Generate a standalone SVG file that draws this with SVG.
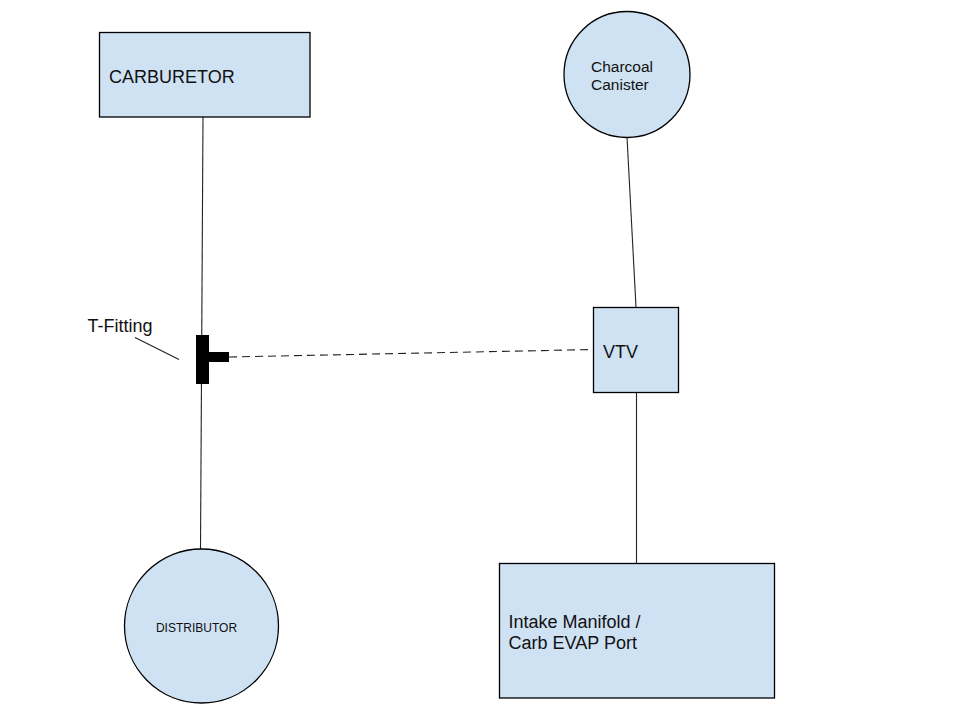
<svg xmlns="http://www.w3.org/2000/svg" width="960" height="720" viewBox="0 0 960 720">
<style>
.shape{fill:#cfe2f3;stroke:#000;stroke-width:1.3}
.line{stroke:#222;stroke-width:1.1;fill:none}
.dash{stroke:#222;stroke-width:1.1;fill:none;stroke-dasharray:8,5}
text{font-family:"Liberation Sans",Arial,sans-serif;fill:#111}
.big{font-size:18px}
.mid{font-size:15.5px}
.small{font-size:12px}
</style>
<rect width="960" height="720" fill="#fff"/>
<g id="connectors">
<line class="line" x1="203" y1="117" x2="200.5" y2="549"/>
<line class="dash" x1="229" y1="357" x2="594" y2="349.5"/>
<line class="line" x1="627" y1="137" x2="636" y2="307"/>
<line class="line" x1="636.5" y1="392" x2="636.5" y2="563"/>
<line class="line" x1="135" y1="337.5" x2="179" y2="359.5"/>
</g>
<g id="carburetor">
<rect class="shape" x="99.5" y="32.5" width="210.5" height="84.5"/>
<text class="big" x="109" y="83">CARBURETOR</text>
</g>
<g id="charcoal-canister">
<circle class="shape" cx="627" cy="74.5" r="63"/>
<text class="mid" x="591" y="72">Charcoal</text>
<text class="mid" x="591" y="90">Canister</text>
</g>
<g id="t-fitting">
<rect x="196" y="335" width="13" height="49" fill="#000"/>
<rect x="208" y="352" width="21" height="10" fill="#000"/>
<text class="big" x="87.5" y="331.5">T-Fitting</text>
</g>
<g id="vtv">
<rect class="shape" x="593.5" y="307.5" width="85" height="85"/>
<text class="big" x="603" y="358">VTV</text>
</g>
<g id="distributor">
<circle class="shape" cx="201.5" cy="626" r="77"/>
<text class="small" x="196.5" y="632" text-anchor="middle">DISTRIBUTOR</text>
</g>
<g id="intake-manifold">
<rect class="shape" x="499.5" y="563.5" width="275" height="134.5"/>
<text class="big" x="508.5" y="627.5">Intake Manifold /</text>
<text class="big" x="508.5" y="649">Carb EVAP Port</text>
</g>
</svg>
